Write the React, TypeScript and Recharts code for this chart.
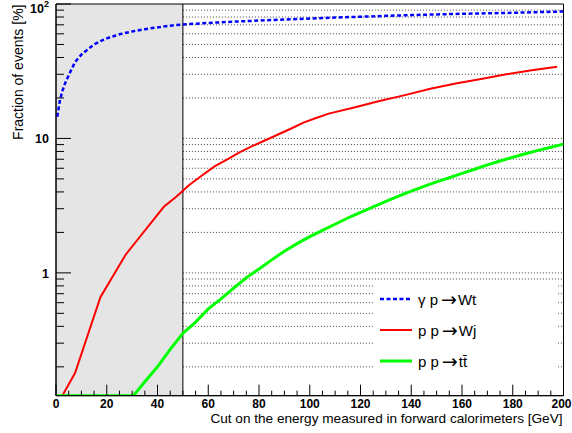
import { LineChart, Line, XAxis, YAxis, ReferenceArea, ReferenceLine, Legend, Label } from 'recharts'

// gamma p -> W t
const wtCut = [0.5, 1.5, 2.5, 3.5, 5, 7.5, 10, 12.5, 15, 17.5, 20, 25, 30, 35, 40, 45, 50, 60, 70, 80, 90, 100, 110, 120, 130, 140, 150, 160, 170, 180, 190, 200]
const wtFrac = [14.5, 19, 22.5, 25.5, 29.5, 37, 42, 46, 50, 53, 55.5, 59.5, 62.5, 65, 67, 69, 70.5, 72.3, 73.9, 75.3, 76.7, 78, 79.3, 80.4, 81.6, 82.7, 83.7, 84.6, 85.3, 86, 87, 88]

// p p -> W j
const wjCut = [2.5, 7.5, 17.5, 27.5, 42.5, 47.5, 52.5, 57.5, 62.5, 67.5, 72.5, 77.5, 82.5, 87.5, 92.5, 97.5, 102.5, 107.5, 117.5, 127.5, 137.5, 147.5, 157.5, 167.5, 177.5, 187.5, 197.5]
const wjFrac = [0.122, 0.18, 0.66, 1.37, 3.1, 3.7, 4.5, 5.3, 6.2, 7.0, 7.9, 8.8, 9.7, 10.7, 11.8, 13.1, 14.2, 15.3, 17.0, 19.0, 21.0, 23.4, 25.6, 27.7, 30.0, 32.2, 34.2]

// p p -> t tbar
const ttCut = [0, 10, 20, 30.5, 35, 40, 45, 50, 55, 60, 65, 70, 75, 80, 85, 90, 95, 100, 105, 110, 115, 120, 125, 130, 135, 140, 145, 150, 155, 160, 165, 170, 175, 180, 185, 190, 195, 200]
const ttFrac = [0.122, 0.122, 0.122, 0.122, 0.155, 0.2, 0.27, 0.355, 0.43, 0.54, 0.64, 0.77, 0.92, 1.07, 1.25, 1.45, 1.65, 1.86, 2.07, 2.3, 2.56, 2.82, 3.1, 3.4, 3.72, 4.05, 4.4, 4.75, 5.1, 5.5, 5.9, 6.35, 6.8, 7.25, 7.7, 8.15, 8.6, 9.07]

const xTicks = [0, 5, 10, 15, 20, 25, 30, 35, 40, 45, 50, 55, 60, 65, 70, 75, 80, 85, 90, 95, 100, 105, 110, 115, 120, 125, 130, 135, 140, 145, 150, 155, 160, 165, 170, 175, 180, 185, 190, 195, 200]
const xLabels = [0, 20, 40, 60, 80, 100, 120, 140, 160, 180, 200]
const yTicks = [0.2, 0.3, 0.4, 0.5, 0.6, 0.7, 0.8, 0.9, 1, 2, 3, 4, 5, 6, 7, 8, 9, 10, 20, 30, 40, 50, 60, 70, 80, 90, 100]
const yLabels = [1, 10, 100]
const gridLevels = [0.2, 0.3, 0.4, 0.5, 0.6, 0.7, 0.8, 0.9, 1, 2, 3, 4, 5, 6, 7, 8, 9, 10, 20, 30, 40, 50, 60, 70, 80, 90]
const cutLimit = 50
const xMax = 200
const yMin = 0.122
const yMax = 100

const series = [
  { name: 'γ p → Wt', cut: wtCut, frac: wtFrac, color: '#0000ff', width: 2.5, dash: '4 2.5' },
  { name: 'p p → Wj', cut: wjCut, frac: wjFrac, color: '#ff0000', width: 2, dash: undefined },
  { name: 'p p → tt̄', cut: ttCut, frac: ttFrac, color: '#00ff00', width: 3, dash: undefined },
]

const toPoints = (xs: number[], ys: number[]) => xs.map((x, i) => ({ cut: x, frac: ys[i] }))

const font = 'Liberation Sans, Arial, Helvetica, sans-serif'

const XTick = ({ x, y, payload }: any) => {
  const v = payload.value
  const major = xLabels.includes(v)
  const last = v === xMax
  return (
    <g>
      <line x1={x} x2={x} y1={y} y2={y - (major ? 11 : 5)} stroke="#000" strokeWidth={1} />
      {major && (
        <text x={last ? x + 8 : x} y={y + 12.5} textAnchor={last ? 'end' : 'middle'} fontSize={12} fontWeight="bold" fontFamily={font} fill="#000">
          {v}
        </text>
      )}
    </g>
  )
}

const YTick = ({ x, y, payload }: any) => {
  const v = payload.value
  const major = yLabels.includes(v)
  return (
    <g>
      <line x1={x} x2={x + (major ? 15 : 8)} y1={y} y2={y} stroke="#000" strokeWidth={1} />
      {v === 100 ? (
        <text x={x - 7} y={y + 9} textAnchor="end" fontSize={12.5} fontWeight="bold" fontFamily={font} fill="#000">
          10<tspan dy={-6} fontSize={9}>2</tspan>
        </text>
      ) : major ? (
        <text x={x - 7} y={y + 5} textAnchor="end" fontSize={12.5} fontWeight="bold" fontFamily={font} fill="#000">
          {v}
        </text>
      ) : null}
    </g>
  )
}

const LegendBox = () => (
  <div style={{ position: 'relative', width: 184, height: 98, background: '#fff', fontFamily: font }}>
    {series.map((s, i) => {
      const [lhs, rhs] = s.name.split('→').map((t) => t.trim())
      return (
        <div key={s.name} style={{ position: 'absolute', left: 6, top: 8 + i * 31, height: 20, display: 'flex', alignItems: 'center' }}>
          <svg width={32} height={6} style={{ marginRight: 6 }}>
            <line x1={0} x2={32} y1={3} y2={3} stroke={s.color} strokeWidth={s.width} strokeDasharray={s.dash} />
          </svg>
          <span style={{ fontSize: 15, color: '#000', whiteSpace: 'nowrap', display: 'flex', alignItems: 'center' }}>
            {lhs}
            <span style={{ fontFamily: 'DejaVu Sans, sans-serif', fontSize: 19, lineHeight: '15px', margin: '0 1px 0 3px' }}>→</span>
            {rhs}
          </span>
        </div>
      )
    })}
  </div>
)

export default function App() {
  return (
    <div style={{ width: 572, height: 433, background: '#fff' }}>
      <style>{'body{margin:0}'}</style>
      <LineChart width={572} height={433} margin={{ top: 4, right: 8.5, bottom: 36.3, left: 55 }}>
        <ReferenceArea x1={0} x2={cutLimit} fill="#e5e5e5" fillOpacity={1} stroke="none" />
        {gridLevels.map((g) => (
          <ReferenceLine key={g} segment={[{ x: cutLimit, y: g }, { x: xMax, y: g }]} stroke="#444" strokeDasharray="1 2" strokeWidth={1} />
        ))}
        <ReferenceLine x={cutLimit} stroke="#000" strokeWidth={1} />
        <ReferenceArea x1={0} x2={xMax} fill="none" stroke="#000" strokeWidth={1} />
        <XAxis
          dataKey="cut"
          type="number"
          domain={[0, xMax]}
          ticks={xTicks}
          interval={0}
          tick={<XTick />}
          tickLine={false}
          tickSize={0}
          tickMargin={0}
          height={1}
          axisLine={{ stroke: '#000' }}
          allowDataOverflow
        >
          <Label
            content={({ viewBox }: any) => (
              <text x={viewBox.x + viewBox.width - 1} y={viewBox.y + 27.3} textAnchor="end" fontSize={13.6} fontFamily={font} fill="#000">
                Cut on the energy measured in forward calorimeters [GeV]
              </text>
            )}
          />
        </XAxis>
        <YAxis
          dataKey="frac"
          type="number"
          scale="log"
          domain={[yMin, yMax]}
          ticks={yTicks}
          interval={0}
          tick={<YTick />}
          tickLine={false}
          tickSize={0}
          tickMargin={0}
          width={1}
          axisLine={{ stroke: '#000' }}
          allowDataOverflow
        >
          <Label
            content={({ viewBox }: any) => {
              const lx = viewBox.x + viewBox.width - 33
              const ly = viewBox.y + 0.5
              return (
                <text x={lx} y={ly} transform={`rotate(-90, ${lx}, ${ly})`} textAnchor="end" fontSize={14} fontFamily={font} fill="#000">
                  Fraction of events [%]
                </text>
              )
            }}
          />
        </YAxis>
        {series.map((s) => (
          <Line
            key={s.name}
            data={toPoints(s.cut, s.frac)}
            dataKey="frac"
            name={s.name}
            stroke={s.color}
            strokeWidth={s.width}
            strokeDasharray={s.dash}
            dot={false}
            isAnimationActive={false}
          />
        ))}
        <Legend
          layout="horizontal"
          verticalAlign="middle"
          align="center"
          content={<LegendBox />}
          wrapperStyle={{ left: 374, top: 281, width: 184, height: 98 }}
        />
      </LineChart>
    </div>
  )
}
